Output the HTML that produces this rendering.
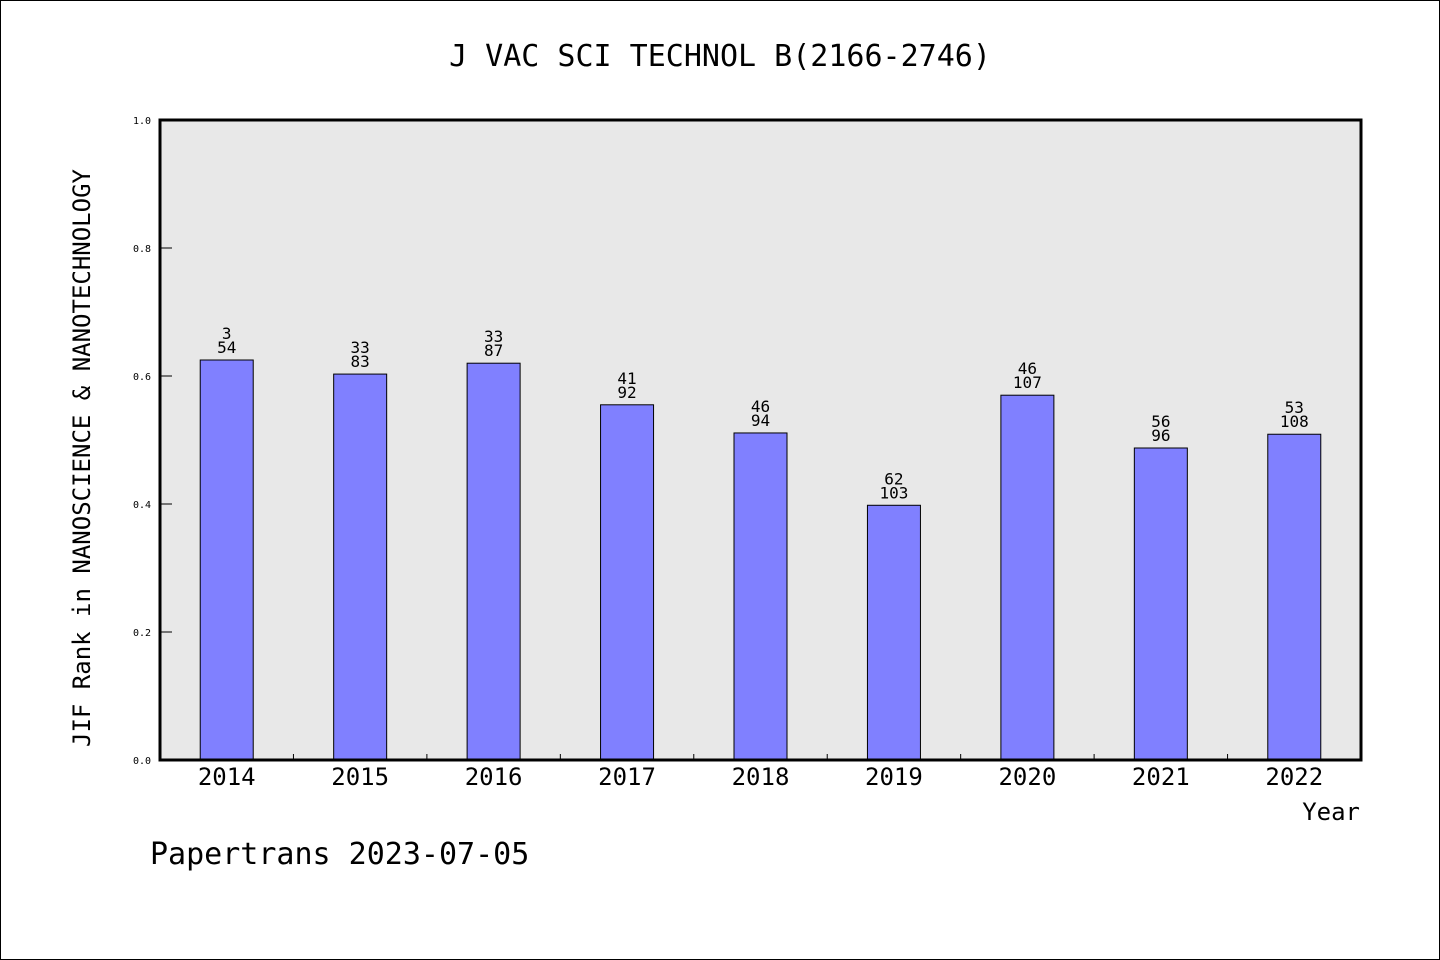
<!DOCTYPE html>
<html><head><meta charset="utf-8"><style>
body{margin:0;background:#fff}
svg{display:block}
text{font-family:"WenQuanYi Zen Hei","DejaVu Sans Mono",sans-serif;fill:#000}
</style></head><body>
<svg width="1440" height="960" id="chart">
<rect x="0.5" y="0.5" width="1439" height="959" fill="#fff" stroke="#000"/>
<text x="720" y="66" font-size="30" text-anchor="middle">J VAC SCI TECHNOL B(2166-2746)</text>
<rect x="160" y="120" width="1201" height="640" fill="#e8e8e8"/>
<g id="marks"></g>
<rect x="160" y="120" width="1201" height="640" fill="none" stroke="#000" stroke-width="3"/>
<text transform="translate(90,458) rotate(-90)" font-size="24" text-anchor="middle">JIF Rank in NANOSCIENCE &amp; NANOTECHNOLOGY</text>
<text x="1360" y="820" font-size="24" text-anchor="end">Year</text>
<text x="150" y="864" font-size="30">Papertrans 2023-07-05</text>
</svg>
<script>
const years=["2014","2015","2016","2017","2018","2019","2020","2021","2022"];
const values=[0.625,0.603,0.620,0.555,0.511,0.398,0.570,0.4875,0.509];
const ranks=["3","33","33","41","46","62","46","56","53"];
const totals=["54","83","87","92","94","103","107","96","108"];
const yTicks=[0,0.2,0.4,0.6,0.8,1.0];
const yTickLabels=["0.0","0.2","0.4","0.6","0.8","1.0"];
const X0=160,W=1201,Y0=760,H=640;
const band=W/years.length;
const yS=v=>Y0-v*H;
const xC=i=>X0+band*(i+0.5);
const g=document.getElementById('marks');
const NS="http://www.w3.org/2000/svg";
function mk(t,a){const e=document.createElementNS(NS,t);for(const k in a)e.setAttribute(k,a[k]);g.appendChild(e);return e;}
yTicks.forEach((v,i)=>{
  const l=mk('line',{x1:X0,x2:X0+12,y1:yS(v),y2:yS(v),stroke:'#000'});
  
  
  const t=mk('text',{x:151,y:yS(v)+4,'font-size':10,'text-anchor':'end'});
  t.textContent=yTickLabels[i];
  
  
});
years.forEach((y,i)=>{
  if(i>0){const l=mk('line',{x1:X0+band*i,x2:X0+band*i,y1:Y0-6,y2:Y0,stroke:'#000'});
  
  }
  const bw=53,top=yS(values[i]);
  const b=mk('rect',{x:xC(i)-bw/2,y:top,width:bw,height:Y0-top,fill:'#8080ff',stroke:'#000','stroke-width':1});
  
  
  const r=mk('text',{x:xC(i),y:top-21,'font-size':16,'text-anchor':'middle'});
  r.textContent=ranks[i];
  
  
  const tt=mk('text',{x:xC(i),y:top-7,'font-size':16,'text-anchor':'middle'});
  tt.textContent=totals[i];
  
  
  const xl=mk('text',{x:xC(i),y:785,'font-size':24,'text-anchor':'middle'});
  xl.textContent=y;
  
  
});
</script>
</body></html>
